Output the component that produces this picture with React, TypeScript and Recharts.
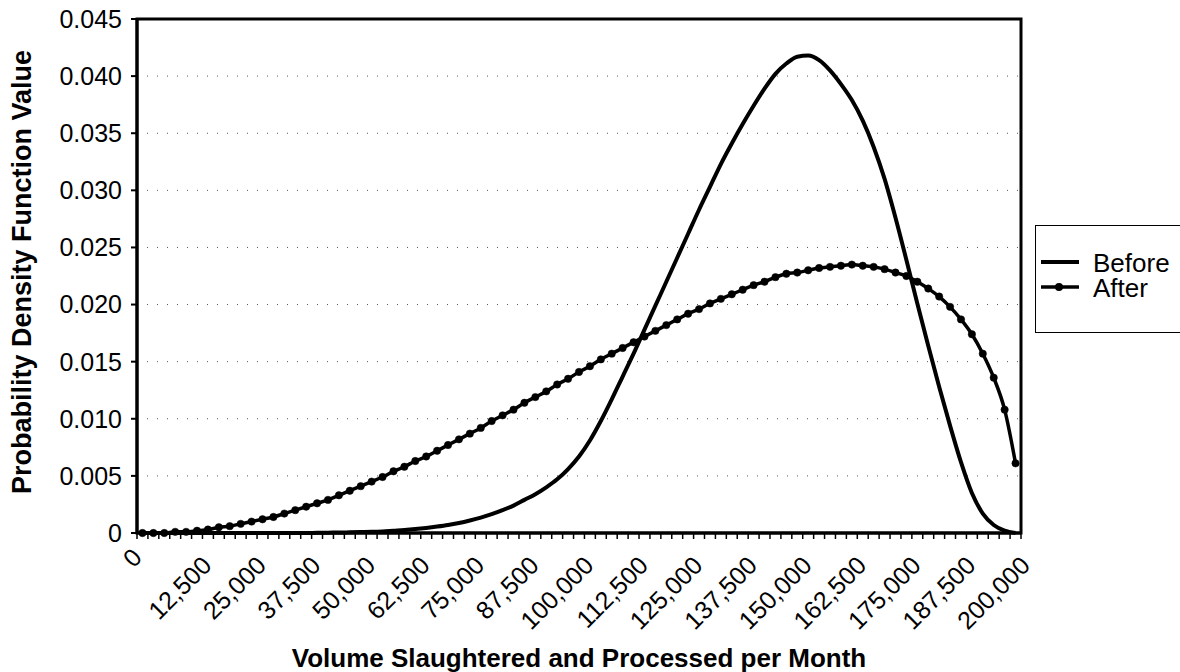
import React from 'react';
import { LineChart, Line, XAxis, YAxis, CartesianGrid, ReferenceArea } from 'recharts';

// volume per month (category positions, every 2,500)
const volumes = [
  0, 2500, 5000, 7500, 10000, 12500, 15000, 17500, 20000, 22500,
  25000, 27500, 30000, 32500, 35000, 37500, 40000, 42500, 45000, 47500,
  50000, 52500, 55000, 57500, 60000, 62500, 65000, 67500, 70000, 72500,
  75000, 77500, 80000, 82500, 85000, 87500, 90000, 92500, 95000, 97500,
  100000, 102500, 105000, 107500, 110000, 112500, 115000, 117500, 120000, 122500,
  125000, 127500, 130000, 132500, 135000, 137500, 140000, 142500, 145000, 147500,
  150000, 152500, 155000, 157500, 160000, 162500, 165000, 167500, 170000, 172500,
  175000, 177500, 180000, 182500, 185000, 187500, 190000, 192500, 195000, 197500,
  200000,
];

const beforePdf = [
  0, 0, 0, 0, 0, 0, 0, 0, 0, 0,
  0, 0, 0, 0, 0, 0, 0.00002, 0.00003, 0.00004, 0.00006,
  0.00008, 0.0001, 0.00014, 0.0002, 0.00026, 0.00034, 0.00044, 0.00056, 0.0007, 0.00088,
  0.0011, 0.00135, 0.00165, 0.002, 0.0024, 0.0029, 0.0034, 0.004, 0.0047, 0.0056,
  0.0067, 0.0081, 0.0098, 0.0117, 0.0137, 0.0157, 0.0178, 0.0199, 0.022, 0.0241,
  0.0262, 0.0283, 0.0303, 0.0323, 0.0341, 0.0358, 0.0374, 0.0389, 0.0402, 0.0411,
  0.0417, 0.0418, 0.0414, 0.0405, 0.0393, 0.0379, 0.0361, 0.0338, 0.031, 0.0276,
  0.0239, 0.0201, 0.0164, 0.0128, 0.0094, 0.0062, 0.0035, 0.0017, 0.0007, 0.0002,
  0,
];

const afterPdf = [
  0, 0, 0, 0.0001, 0.0001, 0.0002, 0.0003, 0.0005, 0.0006, 0.0008,
  0.001, 0.0012, 0.0014, 0.0017, 0.002, 0.0023, 0.0026, 0.0029, 0.0033, 0.0037,
  0.0041, 0.0045, 0.0049, 0.0054, 0.0058, 0.0063, 0.0067, 0.0072, 0.0077, 0.0082,
  0.0087, 0.0092, 0.0098, 0.0103, 0.0108, 0.0114, 0.0119, 0.0124, 0.013, 0.0135,
  0.0141, 0.0146, 0.0152, 0.0157, 0.0162, 0.0167, 0.0172, 0.0177, 0.0182, 0.0187,
  0.0192, 0.0196, 0.0201, 0.0205, 0.0209, 0.0213, 0.0217, 0.022, 0.0224, 0.0227,
  0.0228, 0.023, 0.0232, 0.0233, 0.0234, 0.0235, 0.0234, 0.0233, 0.0231, 0.0228,
  0.0225, 0.022, 0.0214, 0.0207, 0.0198, 0.0187, 0.0174, 0.0157, 0.0136, 0.0108,
  0.0061,
];

const xLabelTicks = [
  0, 12500, 25000, 37500, 50000, 62500, 75000, 87500, 100000,
  112500, 125000, 137500, 150000, 162500, 175000, 187500, 200000,
];
const yTicks = [0, 0.005, 0.01, 0.015, 0.02, 0.025, 0.03, 0.035, 0.04, 0.045];
const seriesNames = ['Before', 'After'];

const FONT = '"Liberation Sans", Arial, sans-serif';
const PLOT_W = 884;
const STEP = volumes[1] - volumes[0];
const HALF_PX = PLOT_W / volumes.length / 2;
const X_DOMAIN = [volumes[0] - STEP / 2, volumes[volumes.length - 1] + STEP / 2];

const rows = volumes.map((v, i) => ({ volume: v, before: beforePdf[i], after: afterPdf[i] }));

function VolumeTick(props: any) {
  const { x, y, payload } = props;
  const v = payload.value as number;
  const isLast = v === volumes[volumes.length - 1];
  const text = v.toLocaleString('en-US');
  // Excel pushes the single-digit label closer to the axis
  const short = text.length < 3;
  const lx = x + (short ? 1 : 16);
  const ly = y + (short ? 20 : 28);
  return (
    <g>
      <line x1={x - HALF_PX} x2={x - HALF_PX} y1={y - 6} y2={y} stroke="#000" strokeWidth={1.5} />
      {isLast && <line x1={x + HALF_PX} x2={x + HALF_PX} y1={y - 6} y2={y} stroke="#000" strokeWidth={1.5} />}
      {xLabelTicks.includes(v) && (
        <text x={lx} y={ly} transform={`rotate(-45, ${lx}, ${ly})`} textAnchor="end" fontSize={25} fill="#000">
          {text}
        </text>
      )}
    </g>
  );
}

function LegendBox() {
  return (
    <svg width={145} height={108} style={{ position: 'absolute', left: 1035, top: 225 }}>
      <rect x={0.5} y={0.5} width={200} height={107} fill="#fff" stroke="#000" strokeWidth={1} />
      <line x1={6} x2={44} y1={37} y2={37} stroke="#000" strokeWidth={4} />
      <text x={58} y={47} fontSize={26} fill="#000">{seriesNames[0]}</text>
      <line x1={6} x2={44} y1={62} y2={62} stroke="#000" strokeWidth={3.5} />
      <circle cx={24} cy={62} r={4} fill="#000" />
      <text x={58} y={72} fontSize={26} fill="#000">{seriesNames[1]}</text>
    </svg>
  );
}

export default function App() {
  return (
    <div style={{ position: 'absolute', left: 0, top: 0, width: 1180, height: 672, overflow: 'hidden', background: '#fff', fontFamily: FONT }}>
      <LineChart width={1180} height={672} data={rows} margin={{ top: 19, right: 159, bottom: 0, left: 0 }}>
        <CartesianGrid vertical={false} stroke="#555" strokeDasharray="1 9" />
        <XAxis
          dataKey="volume"
          type="number"
          domain={X_DOMAIN}
          ticks={volumes}
          interval={0}
          tick={<VolumeTick />}
          tickLine={false}
          tickSize={6}
          tickMargin={0}
          height={139}
          axisLine={{ stroke: '#000', strokeWidth: 3 }}
          label={{ value: 'Volume Slaughtered and Processed per Month', position: 'insideBottom', offset: 5, fontSize: 26, fontWeight: 700, fill: '#000' }}
        />
        <YAxis
          type="number"
          domain={[0, 0.045]}
          ticks={yTicks}
          interval={0}
          width={137}
          tickSize={6}
          tickMargin={9}
          tickFormatter={(v: number) => (v === 0 ? '0' : v.toFixed(3))}
          tick={{ fontSize: 25, fill: '#000' }}
          tickLine={{ stroke: '#000', strokeWidth: 2 }}
          axisLine={{ stroke: '#000', strokeWidth: 3 }}
          label={{ value: 'Probability Density Function Value', angle: -90, position: 'center', dx: -47, dy: -4, fontSize: 27, fontWeight: 700, fill: '#000' }}
        />
        <ReferenceArea x1={X_DOMAIN[0]} x2={X_DOMAIN[1]} y1={0} y2={0.045} fill="none" stroke="#000" strokeWidth={3} />
        <Line type="monotone" dataKey="before" name="Before" stroke="#000" strokeWidth={4} dot={false} isAnimationActive={false} />
        <Line
          type="monotone"
          dataKey="after"
          name="After"
          stroke="#000"
          strokeWidth={3.5}
          dot={{ r: 3.7, fill: '#000', stroke: '#000', strokeWidth: 0.5 }}
          isAnimationActive={false}
        />
      </LineChart>
      <LegendBox />
    </div>
  );
}
